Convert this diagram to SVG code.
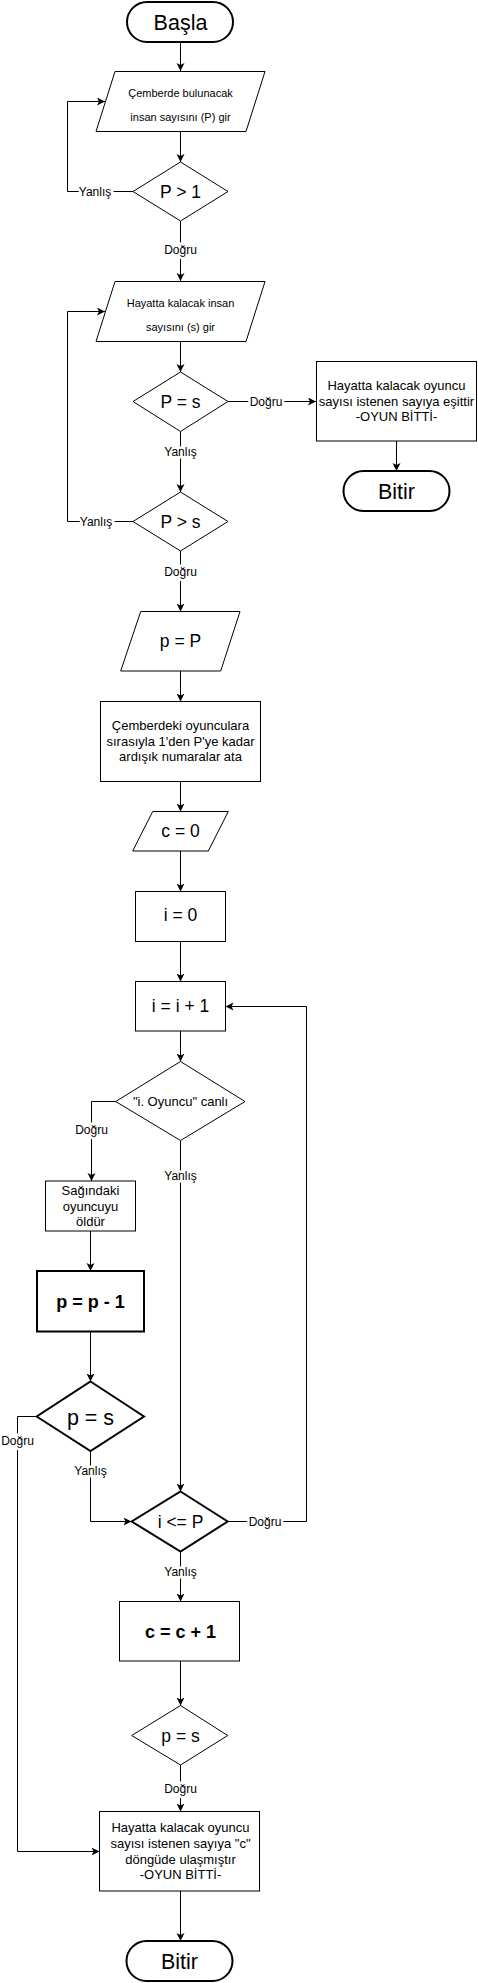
<svg xmlns="http://www.w3.org/2000/svg" width="478" height="1983" viewBox="0 0 478 1983">
<style>
.s{fill:#fff;stroke:#000;stroke-width:1}
.t{fill:#fff;stroke:#000;stroke-width:2}
text{font-family:"Liberation Sans",Arial,sans-serif;fill:#000;text-anchor:middle}
.c{fill:none;stroke:#000;stroke-width:1}
.lb{font-size:12px;paint-order:stroke;stroke:#fff;stroke-width:5px}
.f11{font-size:11px}.f13{font-size:13px}.f17{font-size:17.5px}.f21{font-size:21.5px}
.b{font-weight:bold;font-size:18px}
</style>
<defs>
<marker id="a" markerUnits="userSpaceOnUse" markerWidth="10" markerHeight="10" refX="8" refY="4" orient="auto">
<path d="M0,0 L8,4 L0,8 L2,4 z" fill="#000"/>
</marker>
</defs>
<g id="connectors">
<path class="c" marker-end="url(#a)" d="M180.5,42 V71"/>
<path class="c" marker-end="url(#a)" d="M180.5,131 V162"/>
<path class="c" marker-end="url(#a)" d="M133,191.5 H67.5 V101.5 H105"/>
<path class="c" marker-end="url(#a)" d="M180.5,221 V281"/>
<path class="c" marker-end="url(#a)" d="M180.5,341 V372"/>
<path class="c" marker-end="url(#a)" d="M228,401.5 H316"/>
<path class="c" marker-end="url(#a)" d="M396.5,441 V471"/>
<path class="c" marker-end="url(#a)" d="M180.5,431.5 V492"/>
<path class="c" marker-end="url(#a)" d="M133,521.5 H67.5 V311.5 H105"/>
<path class="c" marker-end="url(#a)" d="M180.5,551 V611.5"/>
<path class="c" marker-end="url(#a)" d="M180.5,671 V701.5"/>
<path class="c" marker-end="url(#a)" d="M180.5,781.5 V811.5"/>
<path class="c" marker-end="url(#a)" d="M180.5,851 V891.5"/>
<path class="c" marker-end="url(#a)" d="M180.5,941.5 V981.5"/>
<path class="c" marker-end="url(#a)" d="M180.5,1031 V1061.5"/>
<path class="c" marker-end="url(#a)" d="M115.7,1101.5 H91.5 V1181"/>
<path class="c" marker-end="url(#a)" d="M180.5,1140.5 V1491.5"/>
<path class="c" marker-end="url(#a)" d="M90.5,1231 V1271"/>
<path class="c" marker-end="url(#a)" d="M90.5,1331.5 V1381.5"/>
<path class="c" marker-end="url(#a)" d="M36.7,1416.5 H17.5 V1851.5 H99.5"/>
<path class="c" marker-end="url(#a)" d="M90.5,1451 V1521.5 H131.5"/>
<path class="c" marker-end="url(#a)" d="M227.7,1521.5 H306.5 V1006.5 H225.5"/>
<path class="c" marker-end="url(#a)" d="M180.5,1551.5 V1601.5"/>
<path class="c" marker-end="url(#a)" d="M180.5,1661 V1705.5"/>
<path class="c" marker-end="url(#a)" d="M180.5,1765 V1811.5"/>
<path class="c" marker-end="url(#a)" d="M180.5,1891 V1941"/>
<text class="lb" x="95" y="195.7">Yanlış</text>
<text class="lb" x="180.5" y="254.2">Doğru</text>
<text class="lb" x="266" y="405.7">Doğru</text>
<text class="lb" x="180.5" y="456.2">Yanlış</text>
<text class="lb" x="96" y="525.7">Yanlış</text>
<text class="lb" x="180.5" y="576">Doğru</text>
<text class="lb" x="91.5" y="1133.5">Doğru</text>
<text class="lb" x="180.5" y="1179.5">Yanlış</text>
<text class="lb" x="17.5" y="1445">Doğru</text>
<text class="lb" x="90.5" y="1475">Yanlış</text>
<text class="lb" x="265" y="1525.7">Doğru</text>
<text class="lb" x="180.5" y="1575.9">Yanlış</text>
<text class="lb" x="180.5" y="1792.5">Doğru</text>
</g>
<g id="basla"><rect class="t" x="127" y="2" width="106" height="40" rx="20"/><text class="f21" x="180.5" y="29.5">Başla</text></g>
<g id="input-P"><path class="s" d="M115,71.5 H265 L246,131.5 H96 Z"/><text class="f11" x="180.5" y="96.7">Çemberde bulunacak</text><text class="f11" x="180.5" y="120.7">insan sayısını (P) gir</text></g>
<g id="dec-P-gt-1"><path class="s" d="M180.5,162 L228,191.5 L180.5,221 L133,191.5 Z"/><text class="f17" x="180.5" y="197.8">P &gt; 1</text></g>
<g id="input-s"><path class="s" d="M115,281.5 H265 L246,341.5 H96 Z"/><text class="f11" x="180.5" y="306.7">Hayatta kalacak insan</text><text class="f11" x="180.5" y="330.7">sayısını (s) gir</text></g>
<g id="dec-P-eq-s"><path class="s" d="M180.5,372 L228,401.5 L180.5,431.5 L133,401.5 Z"/><text class="f17" x="180.5" y="407.8">P = s</text></g>
<g id="end-msg-1"><rect class="s" x="316.5" y="361.5" width="160" height="79.5"/><text class="f13" x="396.5" y="389.5">Hayatta kalacak oyuncu</text><text class="f13" x="396.5" y="405.5">sayısı istenen sayıya eşittir</text><text class="f13" x="396.5" y="420.5">-OYUN BİTTİ-</text></g>
<g id="bitir-1"><rect class="t" x="343.5" y="471" width="106" height="40" rx="20"/><text class="f21" x="396.5" y="498.5">Bitir</text></g>
<g id="dec-P-gt-s"><path class="s" d="M180.5,492 L228,521.5 L180.5,551 L133,521.5 Z"/><text class="f17" x="180.5" y="527.8">P &gt; s</text></g>
<g id="p-eq-P"><path class="s" d="M140.7,611.5 H240 L220.7,671 H120.7 Z"/><text class="f17" x="180.5" y="647.3">p = P</text></g>
<g id="assign-numbers"><rect class="s" x="100.5" y="701.5" width="160" height="80"/><text class="f13" x="180.5" y="730">Çemberdeki oyunculara</text><text class="f13" x="180.5" y="746">sırasıyla 1'den P'ye kadar</text><text class="f13" x="180.5" y="761">ardışık numaralar ata</text></g>
<g id="c-eq-0"><path class="s" d="M152.7,811.5 H228.3 L208.3,851 H132.7 Z"/><text class="f17" x="180.5" y="837">c = 0</text></g>
<g id="i-eq-0"><rect class="s" x="135.5" y="891.5" width="90" height="50"/><text class="f17" x="180.5" y="921.3">i = 0</text></g>
<g id="i-inc"><rect class="s" x="135.5" y="981.5" width="90" height="49.5"/><text class="f17" x="180.5" y="1012.3">i = i + 1</text></g>
<g id="dec-alive"><path class="s" d="M180.5,1061.5 L245,1101.5 L180.5,1140.5 L115.7,1101.5 Z"/><text class="f13" x="180.5" y="1105.5">"i. Oyuncu" canlı</text></g>
<g id="kill-right"><rect class="s" x="45.5" y="1181" width="90" height="50"/><text class="f13" x="90.5" y="1195">Sağındaki</text><text class="f13" x="90.5" y="1211">oyuncuyu</text><text class="f13" x="90.5" y="1226">öldür</text></g>
<g id="p-dec"><rect class="t" x="37" y="1271" width="107" height="60.5"/><text class="b" x="90.5" y="1307.5">p = p - 1</text></g>
<g id="dec-p-eq-s-1"><path class="t" d="M90.5,1381.5 L144,1416.5 L90.5,1451 L36.7,1416.5 Z"/><text class="f21" x="90.5" y="1424.5">p = s</text></g>
<g id="dec-i-le-P"><path class="t" d="M180.5,1491.5 L227.7,1521.5 L180.5,1551.5 L131.7,1521.5 Z"/><text class="f17" x="180.5" y="1527.8">i &lt;= P</text></g>
<g id="c-inc"><rect class="s" x="119.5" y="1601.5" width="120" height="59.5"/><text class="b" x="180.5" y="1637.5">c = c + 1</text></g>
<g id="dec-p-eq-s-2"><path class="s" d="M180.5,1705.5 L227.7,1735.5 L180.5,1765 L131.7,1735.5 Z"/><text class="f17" x="180.5" y="1741.8">p = s</text></g>
<g id="end-msg-2"><rect class="s" x="99.5" y="1811.5" width="160" height="79.5"/><text class="f13" x="180.5" y="1831.6">Hayatta kalacak oyuncu</text><text class="f13" x="180.5" y="1848">sayısı istenen sayıya "c"</text><text class="f13" x="180.5" y="1863.6">döngüde ulaşmıştır</text><text class="f13" x="180.5" y="1878.6">-OYUN BİTTİ-</text></g>
<g id="bitir-2"><rect class="t" x="126.5" y="1941" width="106" height="40" rx="20"/><text class="f21" x="179.5" y="1968.5">Bitir</text></g>
</svg>
